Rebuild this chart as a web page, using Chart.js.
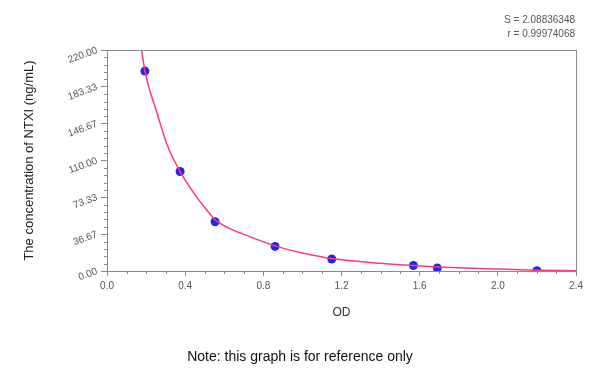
<!DOCTYPE html>
<html>
<head>
<meta charset="utf-8">
<script src="https://cdn.jsdelivr.net/npm/chart.js@4.4.1/dist/chart.umd.min.js"></script>
<style>
html,body{margin:0;padding:0;background:#fff;}
#wrap{width:600px;height:380px;position:relative;}
</style>
</head>
<body>
<div id="wrap"><canvas id="c" width="600" height="380"></canvas></div>
<script>
// Standard points (OD, concentration)
const pointOD   = [0.194, 0.374, 0.553, 0.86, 1.15, 1.568, 1.69, 2.2];
const pointConc = [199, 99, 49, 24.5, 12, 5.5, 3, 0.3];
// Fitted curve
const curveOD   = [0.177, 0.194, 0.258, 0.308, 0.374, 0.45, 0.507, 0.553, 0.62, 0.7, 0.86, 0.99, 1.15, 1.4, 1.568, 1.69, 2.0, 2.2, 2.4];
const curveConc = [220, 199, 156, 125.4, 99, 76, 61.5, 51, 43, 36.5, 25, 18.4, 12.4, 7.6, 5.4, 4.1, 1.9, 0.8, 0.3];
// Tick labels
const xTicks = [0.0, 0.4, 0.8, 1.2, 1.6, 2.0, 2.4];
const yTicks = [0.00, 36.67, 73.33, 110.00, 146.67, 183.33, 220.00];
const statLines = ["S = 2.08836348", "r = 0.99974068"];
const xTitle = "OD";
const yTitle = "The concentration of NTXI (ng/mL)";
const noteText = "Note: this graph is for reference only";

const axisColor = "#8a8a8a";

const extras = {
  id: "extras",
  afterDraw(chart) {
    const ctx = chart.ctx;
    const a = chart.chartArea;
    const xs = chart.scales.x, ys = chart.scales.y;
    ctx.save();
    ctx.strokeStyle = axisColor;
    ctx.lineWidth = 1;
    ctx.beginPath();
    ctx.moveTo(a.left, Math.round(a.top) + 0.5);
    ctx.lineTo(a.right, Math.round(a.top) + 0.5);
    ctx.moveTo(Math.round(a.right) + 0.5, a.top);
    ctx.lineTo(Math.round(a.right) + 0.5, a.bottom);
    ctx.stroke();
    ctx.beginPath();
    for (let i = 0; i < xTicks.length - 1; i++) {
      const step = (xTicks[i + 1] - xTicks[i]) / 4;
      for (let k = 1; k < 4; k++) {
        const px = Math.round(xs.getPixelForValue(xTicks[i] + k * step)) + 0.5;
        ctx.moveTo(px, a.bottom);
        ctx.lineTo(px, a.bottom + 3);
      }
    }
    for (let i = 0; i < yTicks.length - 1; i++) {
      const step = (yTicks[i + 1] - yTicks[i]) / 5;
      for (let k = 1; k < 5; k++) {
        const py = Math.round(ys.getPixelForValue(yTicks[i] + k * step)) + 0.5;
        ctx.moveTo(a.left - 3, py);
        ctx.lineTo(a.left, py);
      }
    }
    ctx.stroke();
    ctx.fillStyle = "#555";
    ctx.font = "10px 'Liberation Sans', Arial, sans-serif";
    ctx.textAlign = "right";
    ctx.textBaseline = "middle";
    ctx.fillText(statLines[0], 575, 20);
    ctx.fillText(statLines[1], 575, 34);
    ctx.fillStyle = "#111";
    ctx.font = "14px 'Liberation Sans', Arial, sans-serif";
    ctx.textAlign = "center";
    ctx.fillText(noteText, 300, 357);
    ctx.restore();
  }
};

new Chart(document.getElementById("c"), {
  type: "scatter",
  data: {
    datasets: [
      {
        type: "line",
        data: curveOD.map((x, i) => ({x, y: curveConc[i]})),
        borderColor: "#ff3a7a",
        borderWidth: 1.5,
        pointRadius: 0,
        cubicInterpolationMode: "monotone",
        fill: false,
        order: 0
      },
      {
        data: pointOD.map((x, i) => ({x, y: pointConc[i]})),
        backgroundColor: "#2626e8",
        borderColor: "#2626e8",
        borderWidth: 0,
        pointRadius: 4.5,
        order: 1
      }
    ]
  },
  options: {
    responsive: false,
    animation: false,
    events: [],
    layout: {padding: {left: 0, top: 50, right: 24, bottom: 0}},
    plugins: {legend: {display: false}, tooltip: {enabled: false}},
    scales: {
      x: {
        type: "linear",
        min: 0, max: 2.4,
        afterBuildTicks: s => { s.ticks = xTicks.map(v => ({value: v})); },
        afterFit: s => { s.height = 109; },
        grid: {drawOnChartArea: false, color: axisColor, tickLength: 5},
        border: {color: axisColor},
        ticks: {
          color: "#555", padding: 4, maxRotation: 0,
          font: {size: 10, family: "'Liberation Sans', Arial, sans-serif"},
          callback: v => Number(v).toFixed(1)
        },
        title: {
          display: true, text: xTitle, color: "#333",
          font: {size: 12, family: "'Liberation Sans', Arial, sans-serif"},
          padding: {top: 0, bottom: 60}
        }
      },
      y: {
        type: "linear",
        min: 0, max: 220,
        afterBuildTicks: s => { s.ticks = yTicks.map(v => ({value: v})); },
        afterFit: s => { s.width = 107; },
        grid: {drawOnChartArea: false, color: axisColor, tickLength: 6},
        border: {color: axisColor},
        ticks: {
          color: "#555", padding: 4, minRotation: 20, maxRotation: 20,
          font: {size: 10, family: "'Liberation Sans', Arial, sans-serif"},
          callback: v => Number(v).toFixed(2)
        },
        title: {
          display: true, text: yTitle, color: "#222",
          font: {size: 13, family: "'Liberation Sans', Arial, sans-serif"},
          padding: {top: 22, bottom: 0}
        }
      }
    }
  },
  plugins: [extras]
});
</script>
</body>
</html>
